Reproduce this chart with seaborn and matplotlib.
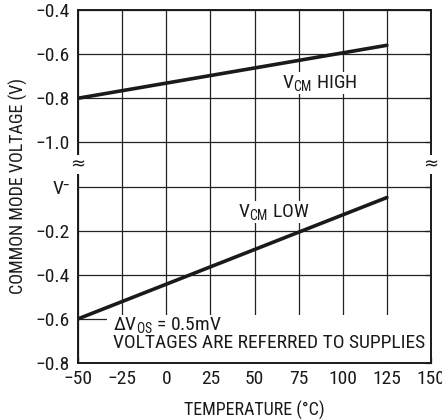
import matplotlib
matplotlib.use("Agg")
import matplotlib.pyplot as plt
import seaborn as sns
import numpy as np
import pandas as pd
from matplotlib.patches import Rectangle

sns.set_theme(style="white")
FONT = ["Roboto Condensed", "DejaVu Sans"]
plt.rcParams["font.family"] = FONT
plt.rcParams["mathtext.fontset"] = "custom"
plt.rcParams["mathtext.rm"] = "Roboto Condensed"
plt.rcParams["mathtext.it"] = "Roboto Condensed"
plt.rcParams["mathtext.bf"] = "Roboto Condensed"

# ---- data ----
temperature = [-50, 125]
vcm_high = [-0.80, -0.56]          # upper section (V, absolute)
vcm_low = [-0.60, -0.05]           # lower section (V, referred to V-)
x_ticks = [-50, -25, 0, 25, 50, 75, 100, 125, 150]
y_tick_labels = ["−0.8", "−0.6", "−0.4", "−0.2", "V⁻", "−1.0", "−0.8", "−0.6", "−0.4"]

# broken axis: lower section shifted by -1.2 (V- sits one cell below -1.0)
LOW_OFFSET = -1.2
df = pd.DataFrame({
    "T": temperature * 2,
    "pos": list(vcm_high) + [v + LOW_OFFSET for v in vcm_low],
    "series": ["high"] * 2 + ["low"] * 2,
})

fig = plt.figure(figsize=(4.42, 4.2), dpi=100)
ax = fig.add_axes([78 / 442, 1 - 363 / 420, 353 / 442, 353 / 420])

y_pos = np.round(np.arange(-2.0, -0.39, 0.2), 2)

# grid
ax.vlines(x_ticks, -2.0, -0.4, colors="#222222", linewidth=0.9, zorder=0.6)
ax.hlines(y_pos, -50, 150, colors="#222222", linewidth=0.9, zorder=0.6)

sns.lineplot(data=df, x="T", y="pos", hue="series", palette=["#1a1a1a", "#1a1a1a"],
             linewidth=2.6, legend=False, ax=ax, zorder=2)

# note box hides grid
ax.add_patch(Rectangle((-33.6, -2.0), 183.6, 0.218, facecolor="white", edgecolor="none", zorder=1))

ax.set_xlim(-50, 150)
ax.set_ylim(-2.0, -0.4)
ax.set_xticks(x_ticks)
ax.set_xticklabels([str(v).replace("-", "−") for v in x_ticks])
ax.set_yticks(y_pos)
ax.set_yticklabels(y_tick_labels)
ax.tick_params(axis="both", direction="in", length=4, width=0.9, colors="#1a1a1a",
               labelsize=14, labelcolor="#1a1a1a", top=False, right=True, bottom=True, left=False)
ax.tick_params(axis="x", pad=5)
ax.tick_params(axis="y", pad=6)
for s in ax.spines.values():
    s.set_color("#1a1a1a")
    s.set_linewidth(1.4)
    s.set_zorder(3)
ax.set_xlabel("TEMPERATURE (°C)", fontsize=13, color="#1a1a1a", labelpad=9)
ax.set_ylabel("COMMON MODE VOLTAGE (V)", fontsize=13, color="#1a1a1a", labelpad=5)

txt_kw = dict(fontsize=14, color="#1a1a1a", zorder=4)
ax.text(87, -0.731, r"V$_{\mathrm{CM}}$ HIGH", ha="center", va="center",
        bbox=dict(facecolor="white", edgecolor="none", pad=0.5), **txt_kw)
ax.text(61, -1.316, r"V$_{\mathrm{CM}}$ LOW", ha="center", va="center",
        bbox=dict(facecolor="white", edgecolor="none", pad=0.5), **txt_kw)
ax.text(-30.2, -1.828, r"ΔV$_{\mathrm{OS}}$ = 0.5mV", ha="left", va="center", **txt_kw)
ax.text(-30.2, -1.909, "VOLTAGES ARE REFERRED TO SUPPLIES", ha="left", va="center", **txt_kw)

# break marks
for xb in (-50, 150):
    ax.text(xb, -1.1, "≈", ha="center", va="center", fontsize=13, color="#1a1a1a",
            clip_on=False, zorder=5, family=["DejaVu Sans"],
            bbox=dict(facecolor="white", edgecolor="none", pad=0.2))

fig.savefig("out.png", dpi=100)
